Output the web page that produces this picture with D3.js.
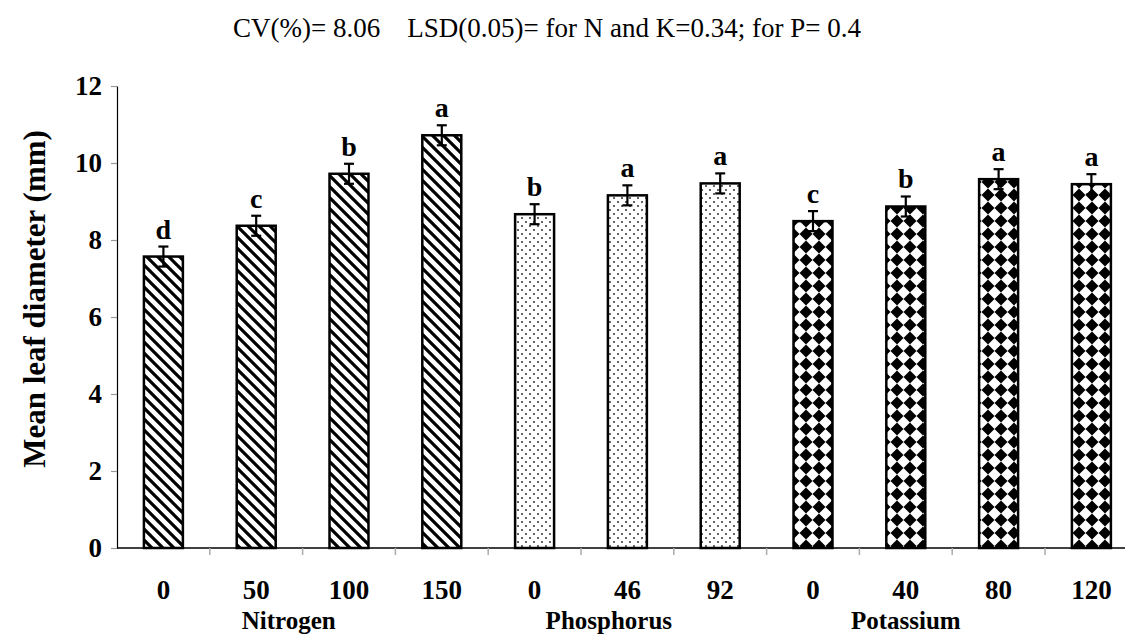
<!DOCTYPE html>
<html>
<head>
<meta charset="utf-8">
<script src="https://cdn.jsdelivr.net/npm/d3@7"></script>
<style>
    body { margin: 0; background: #fff; }
    svg text { font-family: "Liberation Serif", "Times New Roman", serif; }
</style>
</head>
<body>
<div id="chart"></div>
<script>
// Data
const doses = ['0', '50', '100', '150', '0', '46', '92', '0', '40', '80', '120'];
const nutrients = ['N', 'N', 'N', 'N', 'P', 'P', 'P', 'K', 'K', 'K', 'K'];
const meanDiameter = [7.57, 8.37, 9.72, 10.72, 8.67, 9.16, 9.47, 8.49, 8.87, 9.58, 9.45];
const stdErr = [0.26, 0.26, 0.26, 0.26, 0.26, 0.26, 0.26, 0.26, 0.26, 0.26, 0.26];
const letters = ['d', 'c', 'b', 'a', 'b', 'a', 'a', 'c', 'b', 'a', 'a'];
const groupNames = ['Nitrogen', 'Phosphorus', 'Potassium'];
const groupAt = [1.35, 4.8, 8];   // category position of each group label
const yTicks = [0, 2, 4, 6, 8, 10, 12];
const titleText = 'CV(%)= 8.06\u00a0\u00a0\u00a0\u00a0LSD(0.05)= for N and K=0.34; for P= 0.4';

const width = 1125, height = 636;
const margin = { top: 86, left: 117, bottom: 88 };
const bandW = 92.8;
const serif = '"Liberation Serif", "Times New Roman", serif';

const svg = d3.select('#chart').append('svg')
    .attr('width', width)
    .attr('height', height);

// Fill patterns
const defs = svg.append('defs');

const stripes = defs.append('pattern')
    .attr('id', 'pat-N')
    .attr('patternUnits', 'userSpaceOnUse')
    .attr('width', 11).attr('height', 11);
stripes.append('rect').attr('width', 11).attr('height', 11).attr('fill', '#fff');
stripes.append('path')
    .attr('d', 'M-2.75,8.25 L2.75,13.75 M-2.75,-2.75 L13.75,13.75 M8.25,-2.75 L13.75,2.75')
    .attr('stroke', '#000').attr('stroke-width', 3.2);

const dots = defs.append('pattern')
    .attr('id', 'pat-P')
    .attr('patternUnits', 'userSpaceOnUse')
    .attr('width', 8).attr('height', 8);
dots.append('rect').attr('width', 8).attr('height', 8).attr('fill', '#fff');
dots.append('circle').attr('cx', 2).attr('cy', 2).attr('r', 1).attr('fill', '#333');
dots.append('circle').attr('cx', 6).attr('cy', 6).attr('r', 1).attr('fill', '#333');

const p = 13;
const diamonds = defs.append('pattern')
    .attr('id', 'pat-K')
    .attr('patternUnits', 'userSpaceOnUse')
    .attr('width', p).attr('height', p);
diamonds.append('rect').attr('width', p).attr('height', p).attr('fill', '#000');
diamonds.append('path')
    .attr('d', `M${p / 2},0 L${p},${p / 2} L${p / 2},${p} L0,${p / 2} Z`)
    .attr('fill', '#fff');

// Scales
const idx = d3.range(doses.length);
const x = d3.scaleBand()
    .domain(idx)
    .range([margin.left, margin.left + bandW * doses.length])
    .paddingInner(0.58)
    .paddingOuter(0.29);

const y = d3.scaleLinear()
    .domain([0, 12])
    .range([height - margin.bottom, margin.top]);

const y0 = y(0);

// Title
svg.append('text')
    .attr('x', 547)
    .attr('y', 37)
    .attr('text-anchor', 'middle')
    .attr('font-family', serif)
    .style('font-size', '27px')
    .text(titleText);

// Y axis
const yAxis = svg.append('g')
    .attr('transform', `translate(${margin.left},0)`)
    .call(d3.axisLeft(y).tickValues(yTicks).tickSize(6).tickSizeOuter(0).tickPadding(9));
yAxis.select('.domain').attr('stroke', '#000').attr('stroke-width', 1.2);
yAxis.selectAll('.tick line').attr('stroke', '#999').attr('stroke-width', 1.2);
yAxis.selectAll('.tick text')
    .attr('font-family', serif)
    .style('font-size', '27px')
    .style('font-weight', 'bold')
    .attr('fill', '#000');

// X axis line and ticks between categories
svg.append('line')
    .attr('x1', margin.left).attr('x2', width)
    .attr('y1', y0).attr('y2', y0)
    .attr('stroke', '#000').attr('stroke-width', 1.5);

svg.selectAll('.x-tick')
    .data(idx.slice(1))
    .join('line')
    .attr('class', 'x-tick')
    .attr('x1', d => x(d) - x.step() * x.paddingInner() / 2)
    .attr('x2', d => x(d) - x.step() * x.paddingInner() / 2)
    .attr('y1', y0).attr('y2', y0 + 7)
    .attr('stroke', '#aaa').attr('stroke-width', 1.5);

// Bars
svg.selectAll('.bar')
    .data(idx)
    .join('rect')
    .attr('class', 'bar')
    .attr('x', d => x(d))
    .attr('width', x.bandwidth())
    .attr('y', d => y(meanDiameter[d]))
    .attr('height', d => y0 - y(meanDiameter[d]))
    .attr('fill', d => `url(#pat-${nutrients[d]})`)
    .attr('stroke', '#000')
    .attr('stroke-width', 2.5);

// Error bars
const cx = d => x(d) + x.bandwidth() / 2;
const err = svg.selectAll('.err')
    .data(idx)
    .join('g')
    .attr('class', 'err')
    .attr('stroke', '#000')
    .attr('stroke-width', 2.2);
err.append('line')
    .attr('x1', cx).attr('x2', cx)
    .attr('y1', d => y(meanDiameter[d] + stdErr[d]))
    .attr('y2', d => y(meanDiameter[d] - stdErr[d]));
err.append('line')
    .attr('x1', d => cx(d) - 5).attr('x2', d => cx(d) + 5)
    .attr('y1', d => y(meanDiameter[d] + stdErr[d]))
    .attr('y2', d => y(meanDiameter[d] + stdErr[d]));
err.append('line')
    .attr('x1', d => cx(d) - 5).attr('x2', d => cx(d) + 5)
    .attr('y1', d => y(meanDiameter[d] - stdErr[d]))
    .attr('y2', d => y(meanDiameter[d] - stdErr[d]));

// Significance letters
svg.selectAll('.sig')
    .data(idx)
    .join('text')
    .attr('class', 'sig')
    .attr('x', cx)
    .attr('y', d => y(meanDiameter[d] + stdErr[d]) - 8)
    .attr('text-anchor', 'middle')
    .attr('font-family', serif)
    .style('font-size', '28px')
    .style('font-weight', 'bold')
    .text(d => letters[d]);

// Category labels
svg.selectAll('.dose')
    .data(idx)
    .join('text')
    .attr('class', 'dose')
    .attr('x', cx)
    .attr('y', 599)
    .attr('text-anchor', 'middle')
    .attr('font-family', serif)
    .style('font-size', '27px')
    .style('font-weight', 'bold')
    .text(d => doses[d]);

// Group labels
svg.selectAll('.group')
    .data(groupNames)
    .join('text')
    .attr('class', 'group')
    .attr('x', (d, i) => x(0) + x.bandwidth() / 2 + groupAt[i] * x.step())
    .attr('y', 629)
    .attr('text-anchor', 'middle')
    .attr('font-family', serif)
    .style('font-size', '25px')
    .style('font-weight', 'bold')
    .text(d => d);

// Y axis title
svg.append('text')
    .attr('transform', `translate(45,${(y0 + y(12)) / 2 - 18}) rotate(-90)`)
    .attr('text-anchor', 'middle')
    .attr('font-family', serif)
    .style('font-size', '31px')
    .style('font-weight', 'bold')
    .text('Mean leaf diameter (mm)');
</script>
</body>
</html>
